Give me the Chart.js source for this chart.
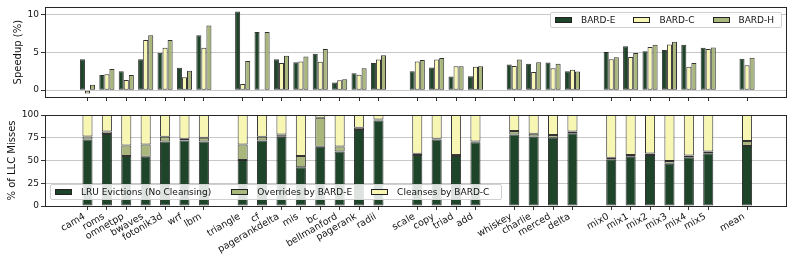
<!DOCTYPE html>
<html>
<head>
<meta charset="utf-8">
<script src="https://cdn.jsdelivr.net/npm/chart.js@4.4.1/dist/chart.umd.min.js"></script>
<style>
  body { margin: 0; background: #fff; font-family: 'DejaVu Sans', sans-serif; }
  #marco { position: relative; width: 793px; height: 261px; overflow: hidden; }
  #arriba { position: absolute; left: 0; top: 0; }
  #abajo { position: absolute; left: 0; top: 105px; }
  .leyenda {
    position: absolute; display: flex; align-items: center;
    background: rgba(255,255,255,0.85); border: 1px solid #d0d0d0; border-radius: 2px;
    font-size: 9px; color: #111; height: 16px; box-sizing: border-box; padding: 0 4px;
    white-space: nowrap;
  }
  .item { display: flex; align-items: center; }
  .muestra { width: 17px; height: 6px; border: 1px solid #222; box-sizing: border-box; margin-right: 9px; }
</style>
</head>
<body>
<div id="marco">
  <canvas id="arriba" width="793" height="105"></canvas>
  <canvas id="abajo" width="793" height="156"></canvas>
  <div class="leyenda" style="left:550px; top:12px; width:232px;">
    <div class="item" style="margin-right:18px"><div class="muestra" style="background:#1e4529"></div>BARD-E</div>
    <div class="item" style="margin-right:18px"><div class="muestra" style="background:#f8f6b3"></div>BARD-C</div>
    <div class="item"><div class="muestra" style="background:#a9b77c"></div>BARD-H</div>
  </div>
  <div class="leyenda" style="left:50px; top:184px; width:452px;">
    <div class="item" style="margin-right:20px"><div class="muestra" style="background:#1e4529"></div>LRU Evictions (No Cleansing)</div>
    <div class="item" style="margin-right:19px"><div class="muestra" style="background:#a9b77c"></div>Overrides by BARD-E</div>
    <div class="item"><div class="muestra" style="background:#f8f6b3"></div>Cleanses by BARD-C</div>
  </div>
</div>
<script>
//-----------------DATOS------------------
var categories = ['cam4', 'roms', 'omnetpp', 'bwaves', 'fotonik3d', 'wrf', 'lbm',
    'triangle', 'cf', 'pagerankdelta', 'mis', 'bc', 'bellmanford', 'pagerank', 'radii',
    'scale', 'copy', 'triad', 'add',
    'whiskey', 'charlie', 'merced', 'delta',
    'mix0', 'mix1', 'mix2', 'mix3', 'mix4', 'mix5',
    'mean'];
var groupSizes = [7, 8, 4, 4, 6, 1];

// Speedup (%)
var speedupE = [4.1, 2.0, 2.5, 4.1, 4.95, 2.95, 7.25, 10.4, 7.7, 4.1, 3.7, 4.8, 1.0, 2.25, 3.6,
    2.5, 3.0, 1.8, 1.85, 3.4, 3.5, 3.65, 2.5, 5.05, 5.8, 5.15, 5.3, 6.0, 5.6, 4.15];
var speedupC = [-0.45, 2.1, 1.35, 6.65, 5.6, 1.7, 5.6, 0.8, 0.1, 3.6, 3.8, 3.75, 1.3, 2.05, 4.05,
    3.8, 4.05, 3.15, 3.1, 3.2, 2.4, 2.9, 2.7, 4.1, 4.4, 5.7, 6.05, 3.1, 5.45, 3.3];
var speedupH = [0.7, 2.8, 2.0, 7.25, 6.65, 2.55, 8.55, 3.85, 7.7, 4.55, 4.45, 5.45, 1.45, 2.9, 4.6,
    4.0, 4.25, 3.15, 3.15, 4.05, 3.7, 3.5, 2.45, 4.35, 4.9, 6.0, 6.4, 3.6, 5.65, 4.3];

// % of LLC Misses
var lruEvictions = [73, 79, 55, 54, 71, 72, 71, 50.5, 72, 76, 42.5, 65, 60, 83.5, 94,
    56, 73, 55, 70, 78.5, 76.5, 75, 80, 51.5, 54, 56, 46.5, 53.5, 58, 66];
var overridesE = [3.5, 3, 11.5, 13.5, 5, 2, 4, 17, 4, 2.5, 12.5, 32, 5.5, 2.5, 1,
    1.5, 0.8, 1, 0.8, 4, 3, 3, 2, 1.5, 2, 1.8, 3, 2, 2, 5.5];
var cleansesC = [23.5, 18, 33.5, 32.5, 24, 26, 25, 32.5, 24, 21.5, 45, 3, 34.5, 14, 5,
    42.5, 26.2, 44, 29.2, 17.5, 20.5, 22, 18, 47, 44, 42.2, 50.5, 44.5, 40, 28.5];

var speedupTicks = [0, 5, 10];
var llcTicks = [0, 25, 50, 75, 100];

//-----------------FUNCIONES------------------
// posicion de cada categoria en el eje, con un hueco entre grupos
var posiciones = [];
var etiquetaEn = {};
(function () {
    var x = 0, k = 0;
    for (var g = 0; g < groupSizes.length; g++) {
        for (var j = 0; j < groupSizes[g]; j++) {
            posiciones.push(x);
            etiquetaEn[x] = categories[k];
            x++; k++;
        }
        x++;
    }
})();

function puntos(valores) {
    return valores.map(function (v, i) { return { x: posiciones[i], y: v }; });
}

var fuente = { family: 'DejaVu Sans', size: 9 };

var marcoPlugin = {
    id: 'marco',
    afterDraw: function (chart) {
        var a = chart.chartArea;
        var ctx = chart.ctx;
        ctx.save();
        ctx.strokeStyle = '#262626';
        ctx.lineWidth = 1;
        ctx.strokeRect(Math.round(a.left) + 0.5, Math.round(a.top) + 0.5,
            Math.round(a.right - a.left) - 1, Math.round(a.bottom - a.top));
        ctx.restore();
    }
};

function eje_x(altura, conEtiquetas) {
    return {
        type: 'linear',
        min: -2.19, max: 36.06,
        offset: false,
        stacked: true,
        afterFit: function (s) { s.height = altura; },
        afterBuildTicks: function (s) { s.ticks = posiciones.map(function (v) { return { value: v }; }); },
        border: { display: false },
        grid: { offset: false, drawOnChartArea: false, tickLength: 4, tickColor: '#333' },
        ticks: {
            display: conEtiquetas, font: { family: 'DejaVu Sans', size: 9.5 }, color: '#111',
            autoSkip: false, minRotation: 30, maxRotation: 30, padding: 1, labelOffset: -3,
            callback: function (v) { return etiquetaEn[v]; }
        }
    };
}

function eje_y(min, max, ticks, titulo, pad) {
    return {
        min: min, max: max,
        stacked: true,
        afterFit: function (s) { s.width = 45; },
        afterBuildTicks: function (s) { s.ticks = ticks.map(function (v) { return { value: v }; }); },
        border: { display: false },
        grid: { color: '#c8c8c8', lineWidth: 1, tickColor: '#333', tickLength: 4 },
        ticks: { font: fuente, color: '#111', padding: 2 },
        title: { display: true, text: titulo, font: { family: 'DejaVu Sans', size: 10 }, color: '#111', padding: { top: pad, bottom: 0 } }
    };
}

function barras(label, data, color) {
    return {
        label: label,
        data: puntos(data),
        backgroundColor: color,
        borderColor: 'rgba(0,0,0,0.8)',
        borderWidth: 1,
        borderSkipped: false
    };
}

//------------------GRAFICO DE ARRIBA----------
var xSpeed = eje_x(8, false);
xSpeed.stacked = false;
var ySpeed = eje_y(-0.91, 10.95, speedupTicks, 'Speedup (%)', 12);
ySpeed.stacked = false;
new Chart(document.getElementById('arriba'), {
    type: 'bar',
    data: {
        datasets: [
            barras('BARD-E', speedupE, '#1e4529'),
            barras('BARD-C', speedupC, '#f8f6b3'),
            barras('BARD-H', speedupH, '#a9b77c')
        ]
    },
    options: {
        responsive: false,
        devicePixelRatio: 1,
        animation: false,
        categoryPercentage: 0.78,
        barPercentage: 1,
        layout: { padding: { top: 6, right: 6, bottom: 0, left: 0 } },
        plugins: { legend: { display: false }, tooltip: { enabled: false } },
        scales: { x: xSpeed, y: ySpeed }
    },
    plugins: [marcoPlugin]
});

//------------------GRAFICO DE ABAJO----------
new Chart(document.getElementById('abajo'), {
    type: 'bar',
    data: {
        datasets: [
            barras('LRU Evictions (No Cleansing)', lruEvictions, '#1e4529'),
            barras('Overrides by BARD-E', overridesE, '#a9b77c'),
            barras('Cleanses by BARD-C', cleansesC, '#f8f6b3')
        ]
    },
    options: {
        responsive: false,
        devicePixelRatio: 1,
        animation: false,
        categoryPercentage: 0.52,
        barPercentage: 1,
        layout: { padding: { top: 10, right: 6, bottom: 0, left: 0 } },
        plugins: { legend: { display: false }, tooltip: { enabled: false } },
        scales: {
            x: eje_x(55, true),
            y: eje_y(0, 100, llcTicks, '% of LLC Misses', 6)
        }
    },
    plugins: [marcoPlugin]
});
</script>
</body>
</html>
